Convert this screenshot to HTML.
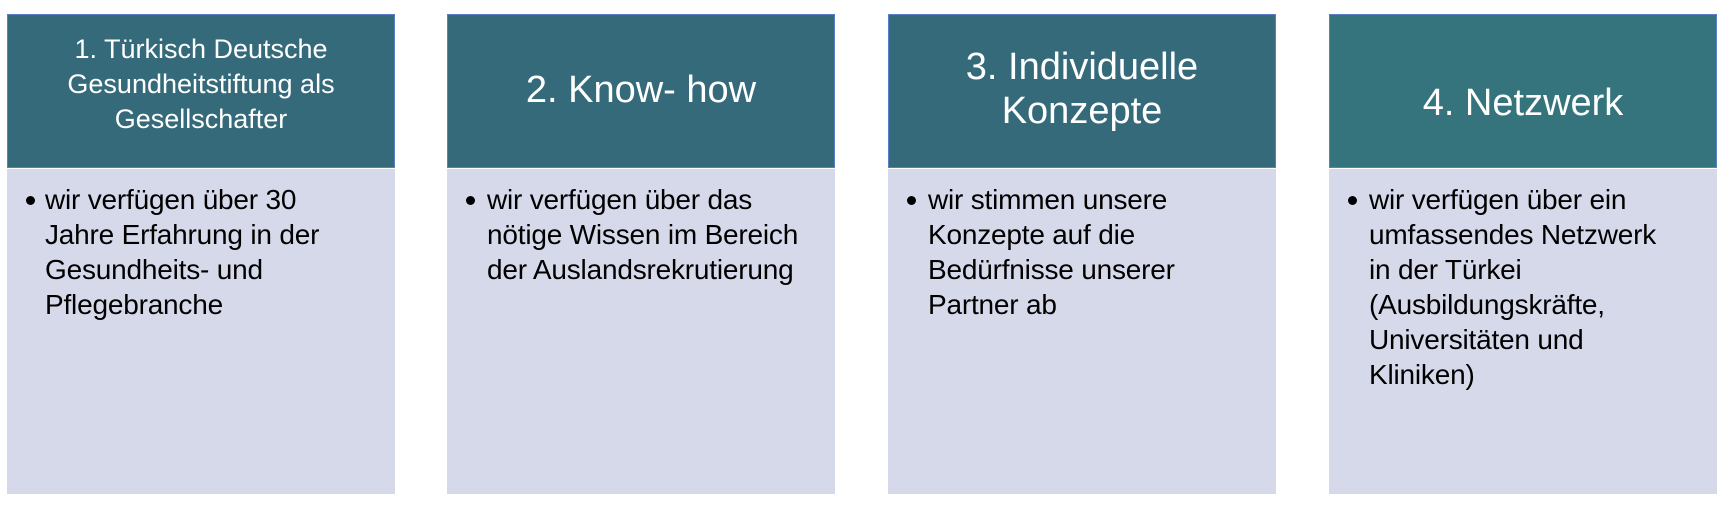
<!DOCTYPE html>
<html><head><meta charset="utf-8"><style>
body{margin:0;width:1728px;height:508px;background:#fff;position:relative;font-family:"Liberation Sans",sans-serif;overflow:hidden}
.h{position:absolute;top:14px;height:154px;width:388px;background:#356a7a;border:1px solid #5b7fc4;box-sizing:border-box;color:#fff;text-align:center}
.b{position:absolute;top:169px;height:325px;width:388px;background:#d6d9ea}
.t{position:absolute;left:0;right:0;white-space:nowrap}
.bt{position:absolute;font-size:28px;line-height:35px;color:#000;white-space:nowrap;letter-spacing:-0.2px}
.dot{position:absolute;width:9px;height:9px;border-radius:50%;background:#000}
</style></head><body>
<div class="h" style="left:7px"><div class="t" style="top:17px;font-size:27px;line-height:35px">1. Türkisch Deutsche<br>Gesundheitstiftung als<br>Gesellschafter</div></div>
<div class="b" style="left:7px"></div>
<div class="dot" style="left:26px;top:196px"></div>
<div class="bt" style="left:45px;top:182px">wir verfügen über 30<br>Jahre Erfahrung in der<br>Gesundheits- und<br>Pflegebranche</div>

<div class="h" style="left:447px"><div class="t" style="top:53px;font-size:38px;line-height:44px">2. Know- how</div></div>
<div class="b" style="left:447px"></div>
<div class="dot" style="left:466px;top:196px"></div>
<div class="bt" style="left:487px;top:182px">wir verfügen über das<br>nötige Wissen im Bereich<br>der Auslandsrekrutierung</div>

<div class="h" style="left:888px"><div class="t" style="top:30px;font-size:38px;line-height:44px">3. Individuelle<br>Konzepte</div></div>
<div class="b" style="left:888px"></div>
<div class="dot" style="left:907px;top:196px"></div>
<div class="bt" style="left:928px;top:182px">wir stimmen unsere<br>Konzepte auf die<br>Bedürfnisse unserer<br>Partner ab</div>

<div class="h" style="left:1329px;background:#35747c"><div class="t" style="top:66px;font-size:38px;line-height:44px">4. Netzwerk</div></div>
<div class="b" style="left:1329px"></div>
<div class="dot" style="left:1348px;top:196px"></div>
<div class="bt" style="left:1369px;top:182px">wir verfügen über ein<br>umfassendes Netzwerk<br>in der Türkei<br>(Ausbildungskräfte,<br>Universitäten und<br>Kliniken)</div>
</body></html>
